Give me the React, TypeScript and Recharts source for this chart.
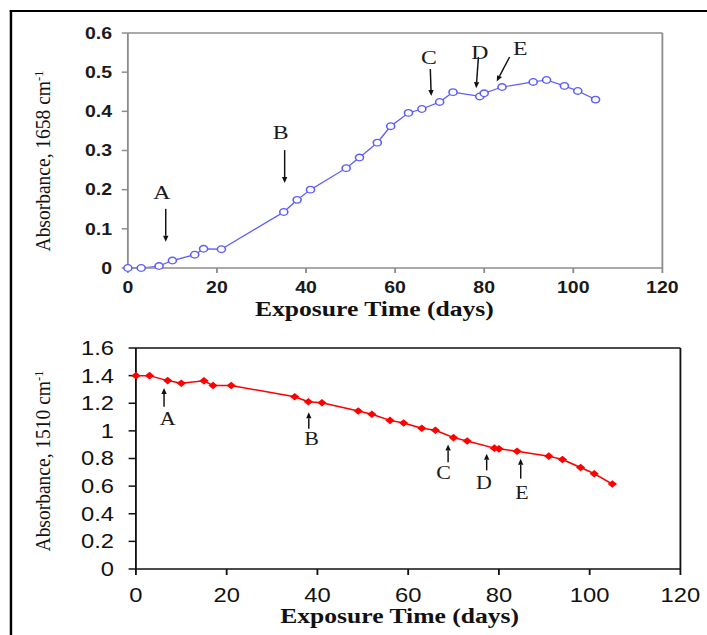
import { LineChart, Line, XAxis, YAxis, ReferenceLine, ReferenceDot } from 'recharts';

// the source image is stretched sideways, so draw narrow and scale x
const STRETCH = 707 / 580;
const W = 580;

const days = [0, 3, 7, 10, 15, 17, 21, 35, 38, 41, 49, 52, 56, 59, 63, 66, 70, 73, 79, 80, 84, 91, 94, 98, 101, 105];
const abs1658 = [0, 0, 0.005, 0.019, 0.034, 0.049, 0.048, 0.143, 0.174, 0.2, 0.255, 0.282, 0.32, 0.362, 0.396, 0.406, 0.424, 0.449, 0.438, 0.446, 0.462, 0.475, 0.48, 0.465, 0.452, 0.43];
const abs1510 = [1.4, 1.4, 1.364, 1.345, 1.362, 1.328, 1.328, 1.247, 1.211, 1.204, 1.144, 1.12, 1.076, 1.057, 1.019, 1.004, 0.951, 0.927, 0.875, 0.87, 0.853, 0.817, 0.793, 0.735, 0.69, 0.615];

const xTicks = [0, 20, 40, 60, 80, 100, 120];
const topTicks = [0, 0.1, 0.2, 0.3, 0.4, 0.5, 0.6];
const bottomTicks = [0, 0.2, 0.4, 0.6, 0.8, 1, 1.2, 1.4, 1.6];

// arrow annotations in data units: tail (x1,y1) -> head (x2,y2), letter at (tx,ty)
const topNotes = [
  { label: 'A', x1: 8.5, y1: 0.151, x2: 8.5, y2: 0.067, tx: 7.6, ty: 0.195 },
  { label: 'B', x1: 35.2, y1: 0.301, x2: 35.2, y2: 0.217, tx: 34.3, ty: 0.348 },
  { label: 'C', x1: 67.9, y1: 0.508, x2: 68.1, y2: 0.439, tx: 67.6, ty: 0.538 },
  { label: 'D', x1: 78.7, y1: 0.539, x2: 78.2, y2: 0.459, tx: 79.0, ty: 0.552 },
  { label: 'E', x1: 85.7, y1: 0.539, x2: 82.8, y2: 0.476, tx: 88.1, ty: 0.563 },
];
const bottomNotes = [
  { label: 'A', x1: 6.2, y1: 1.175, x2: 6.2, y2: 1.31, tx: 7.0, ty: 1.093 },
  { label: 'B', x1: 38.1, y1: 1.016, x2: 38.1, y2: 1.134, tx: 38.7, ty: 0.942 },
  { label: 'C', x1: 68.8, y1: 0.773, x2: 68.8, y2: 0.901, tx: 67.8, ty: 0.701 },
  { label: 'D', x1: 77.3, y1: 0.714, x2: 77.3, y2: 0.834, tx: 76.7, ty: 0.629 },
  { label: 'E', x1: 84.8, y1: 0.654, x2: 84.8, y2: 0.798, tx: 85.1, ty: 0.557 },
];

const topData = days.map((d, i) => ({ day: d, v: abs1658[i] }));
const bottomData = days.map((d, i) => ({ day: d, v: abs1510[i] }));

const GREY = '#8c8c8c';
const BLUE = '#5c5cff';
const RED = '#ff0000';
const SERIF = '"Liberation Serif", "Times New Roman", serif';
const SANS = '"Liberation Sans", Arial, sans-serif';

function arrow(p: any) {
  const { x1, y1, x2, y2 } = p;
  const dx = x2 - x1;
  const dy = y2 - y1;
  const len = Math.sqrt(dx * dx + dy * dy) || 1;
  const ux = dx / len;
  const uy = dy / len;
  const hl = 6;
  const hw = 2.2;
  const bx = x2 - ux * hl;
  const by = y2 - uy * hl;
  return (
    <g>
      <line x1={x1} y1={y1} x2={bx} y2={by} stroke="#111" strokeWidth={1.2} />
      <polygon
        points={`${x2},${y2} ${bx - uy * hw},${by + ux * hw} ${bx + uy * hw},${by - ux * hw}`}
        fill="#111"
      />
    </g>
  );
}

function letter(text: string, size: number) {
  return (p: any) => (
    <text x={p.cx} y={p.cy} dy="0.36em" textAnchor="middle" fontFamily={SERIF} fontSize={size} fill="#1a1a1a">
      {text}
    </text>
  );
}

function yTitle(wave: string, toCenter: number, shift: number) {
  return (props: any) => {
    const vb = props.viewBox;
    const cx = vb.x + vb.width - toCenter;
    const cy = vb.y + vb.height / 2 + shift;
    return (
      <text
        transform={`translate(${cx},${cy}) rotate(-90) scale(1,0.85)`}
        textAnchor="middle"
        dy="0.35em"
        fontFamily={SERIF}
        fontSize={19.5}
        fill="#111"
      >
        {`Absorbance, ${wave} cm`}
        <tspan dy={-7} fontSize={12.5}>-1</tspan>
      </text>
    );
  };
}

function xTitle(down: number, shift: number) {
  return (props: any) => {
    const vb = props.viewBox;
    return (
      <text
        x={vb.x + vb.width / 2 + shift}
        y={vb.y + down}
        textAnchor="middle"
        fontFamily={SERIF}
        fontWeight="bold"
        fontSize={21}
        fill="#111"
      >
        Exposure Time (days)
      </text>
    );
  };
}

function diamond(p: any) {
  const { cx, cy, index } = p;
  const s = 3.8;
  return <path key={index} d={`M${cx},${cy - s} L${cx + s},${cy} L${cx},${cy + s} L${cx - s},${cy} Z`} fill={RED} />;
}

export default function App() {
  return (
    <div
      style={{
        position: 'absolute',
        left: 0,
        top: 0,
        width: W,
        height: 635,
        background: '#fff',
        transform: `scale(${STRETCH},1)`,
        transformOrigin: '0 0',
        overflow: 'hidden',
      }}
    >
      <div
        style={{
          position: 'absolute',
          left: 8,
          top: 10,
          width: 700,
          height: 700,
          borderLeft: '2px solid #000',
          borderTop: '2px solid #000',
        }}
      />

      <div style={{ position: 'absolute', left: 0, top: 0 }}>
        <LineChart width={W} height={330} data={topData} margin={{ top: 33, right: 36.6, bottom: 0, left: 44.9 }}>
          <XAxis
            dataKey="day"
            type="number"
            domain={[0, 120]}
            ticks={xTicks}
            height={62}
            stroke={GREY}
            strokeWidth={1.5}
            tickSize={5}
            tickMargin={9}
            tick={{ fill: '#1a1a1a', fontFamily: SANS, fontWeight: 'bold', fontSize: 16 }}
            label={{ content: xTitle(48.5, -17) }}
          />
          <YAxis
            type="number"
            domain={[0, 0.6]}
            ticks={topTicks}
            width={60}
            stroke={GREY}
            strokeWidth={1.5}
            tickSize={5}
            tickMargin={8}
            tick={{ fill: '#1a1a1a', fontFamily: SANS, fontWeight: 'bold', fontSize: 16 }}
            label={{ content: yTitle('1658', 69.7, 10.5) }}
          />
          <ReferenceLine y={0.6} stroke={GREY} strokeWidth={1.5} />
          <ReferenceLine x={120} stroke={GREY} strokeWidth={1.5} />
          <Line
            dataKey="v"
            stroke={BLUE}
            strokeWidth={1.2}
            dot={{ r: 3.3, fill: '#fff', stroke: BLUE, strokeWidth: 1.3 }}
            activeDot={false}
            isAnimationActive={false}
          />
          {topNotes.map((n) => (
            <ReferenceLine
              key={'a' + n.label}
              segment={[{ x: n.x1, y: n.y1 }, { x: n.x2, y: n.y2 }]}
              shape={arrow}
            />
          ))}
          {topNotes.map((n) => (
            <ReferenceDot key={'t' + n.label} x={n.tx} y={n.ty} r={0} shape={letter(n.label, 19.5)} />
          ))}
        </LineChart>
      </div>

      <div style={{ position: 'absolute', left: 0, top: 330 }}>
        <LineChart width={W} height={305} data={bottomData} margin={{ top: 18, right: 21.8, bottom: 0, left: 51.5 }}>
          <XAxis
            dataKey="day"
            type="number"
            domain={[0, 120]}
            ticks={xTicks}
            height={66}
            stroke="#111"
            strokeWidth={1.5}
            tickSize={6}
            tickMargin={13}
            tick={{ fill: '#111', fontFamily: SANS, fontSize: 19.5 }}
            label={{ content: xTitle(54, -7) }}
          />
          <YAxis
            type="number"
            domain={[0, 1.6]}
            ticks={bottomTicks}
            width={60}
            stroke="#111"
            strokeWidth={1.5}
            tickSize={6}
            tickMargin={12}
            tick={{ fill: '#111', fontFamily: SANS, fontSize: 19.5 }}
            label={{ content: yTitle('1510', 76.3, 2.5) }}
          />
          <ReferenceLine y={1.6} stroke="#111" strokeWidth={1.5} />
          <ReferenceLine x={120} stroke="#111" strokeWidth={1.5} />
          <Line
            dataKey="v"
            stroke={RED}
            strokeWidth={1.5}
            dot={diamond}
            activeDot={false}
            isAnimationActive={false}
          />
          {bottomNotes.map((n) => (
            <ReferenceLine
              key={'a' + n.label}
              segment={[{ x: n.x1, y: n.y1 }, { x: n.x2, y: n.y2 }]}
              shape={arrow}
            />
          ))}
          {bottomNotes.map((n) => (
            <ReferenceDot key={'t' + n.label} x={n.tx} y={n.ty} r={0} shape={letter(n.label, 18)} />
          ))}
        </LineChart>
      </div>
    </div>
  );
}
